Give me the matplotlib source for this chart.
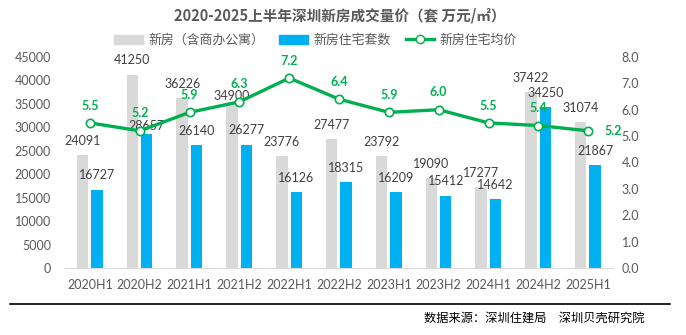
import numpy as np
import matplotlib.pyplot as plt
from matplotlib.lines import Line2D
from matplotlib.patches import Patch

plt.rcParams['font.family'] = ['Noto Sans CJK SC', 'DejaVu Sans']

periods = ['2020H1', '2020H2', '2021H1', '2021H2', '2022H1', '2022H2',
           '2023H1', '2023H2', '2024H1', '2024H2', '2025H1']
total = [24091, 41250, 36226, 34900, 23776, 27477, 23792, 19090, 17277, 37422, 31074]
resid = [16727, 28657, 26140, 26277, 16126, 18315, 16209, 15412, 14642, 34250, 21867]
price = [5.5, 5.2, 5.9, 6.3, 7.2, 6.4, 5.9, 6.0, 5.5, 5.4, 5.2]

grey = '#D9D9D9'
blue = '#00B0F0'
green = '#00B050'
txt = '#595959'
numfont = ['Lato', 'DejaVu Sans']

fig = plt.figure(figsize=(6.86, 3.35), dpi=100)
ax = fig.add_axes([0.0948, 0.2, 0.799, 0.63])
ax2 = ax.twinx()

x = np.arange(len(periods))
w = 0.23
ax.bar(x - 0.15, total, w, color=grey, zorder=2)
ax.bar(x + 0.14, resid, w, color=blue, zorder=2)
for i in range(len(x)):
    # a couple of labels sit lower in the original, close to the line
    dy_t = 1.5 if i == 3 else 6
    dy_r = 1.5 if i == 1 else 6
    ax.annotate(str(total[i]), (x[i] - 0.15, total[i]), xytext=(0, dy_t), textcoords='offset points',
                ha='center', va='bottom', fontsize=9, color='#404040', family=numfont)
    ax.annotate(str(resid[i]), (x[i] + 0.14, resid[i]), xytext=(0, dy_r), textcoords='offset points',
                ha='center', va='bottom', fontsize=9, color='#404040', family=numfont)

ax.set_ylim(0, 45000)
ax.set_yticks(np.arange(0, 45001, 5000))
ax.set_xlim(-0.5, len(x) - 0.5)
ax.set_xticks(x)
ax.set_xticklabels(periods)

ax2.plot(x, price, color=green, lw=2.4, marker='o', ms=6, mfc='white', mec=green, mew=1.2, zorder=5)
for i in range(len(x)):
    if i == len(x) - 1:
        ax2.annotate(f'{price[i]:.1f}', (x[i], price[i]), xytext=(12, 0), textcoords='offset points',
                     ha='left', va='center', fontsize=9, color=green, fontweight='bold', family=numfont)
    else:
        ax2.annotate(f'{price[i]:.1f}', (x[i], price[i]), xytext=(0, 12.5), textcoords='offset points',
                     ha='center', va='center', fontsize=9, color=green, fontweight='bold', family=numfont)
ax2.set_ylim(0, 8)
ax2.set_yticks(np.arange(0, 8.01, 1))
ax2.set_yticklabels([f'{v:.1f}' for v in np.arange(0, 8.01, 1)])

for a in (ax, ax2):
    for s in a.spines.values():
        s.set_visible(False)
    a.tick_params(length=0, labelsize=9, colors=txt)
    for lab in a.get_xticklabels() + a.get_yticklabels():
        lab.set_family(numfont)
ax.spines['bottom'].set_visible(True)
ax.spines['bottom'].set_color(grey)
ax.tick_params(axis='x', pad=8)
ax.tick_params(axis='y', pad=10)
ax2.tick_params(axis='y', pad=6)

fig.text(0.495, 0.955, '2020-2025上半年深圳新房成交量价（套 万元/㎡）', ha='center', va='center',
         fontsize=10.5, fontweight='bold', color=txt)

handles = [Patch(color=grey), Patch(color=blue),
           Line2D([], [], color=green, lw=2.4, marker='o', ms=6, mfc='white', mec=green)]
fig.legend(handles, ['新房（含商办公寓）', '新房住宅套数', '新房住宅均价'], ncol=3,
           loc='center', bbox_to_anchor=(0.46, 0.88), frameon=False, fontsize=9.3,
           handlelength=2.2, columnspacing=1.2, handletextpad=0.4, labelcolor=txt)

fig.add_artist(Line2D([0.015, 0.977], [0.0925, 0.0925], color='black', lw=1.2))
fig.text(0.94, 0.05, '数据来源：深圳住建局　深圳贝壳研究院', ha='right', va='center',
         fontsize=8.8, color='black')

fig.savefig('out.png', dpi=100)
